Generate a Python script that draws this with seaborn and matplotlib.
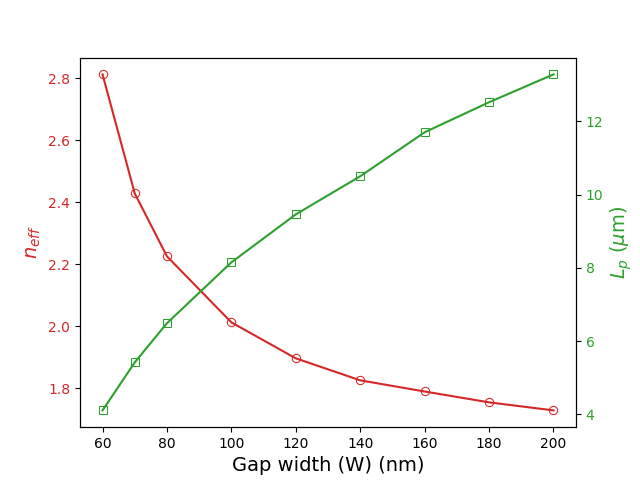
import matplotlib
matplotlib.use("Agg")
import matplotlib.pyplot as plt
import seaborn as sns
import pandas as pd

gap_nm = [60, 70, 80, 100, 120, 140, 160, 180, 200]
n_eff = [2.813, 2.429, 2.226, 2.013, 1.897, 1.826, 1.790, 1.755, 1.729]
L_p = [4.11, 5.42, 6.49, 8.15, 9.46, 10.50, 11.70, 12.52, 13.28]

df = pd.DataFrame({"W": gap_nm, "neff": n_eff, "Lp": L_p})

fig, ax1 = plt.subplots(figsize=(6.4, 4.8), dpi=100)
sns.lineplot(data=df, x="W", y="neff", ax=ax1, color="tab:red", marker="o",
             markerfacecolor="none", markeredgecolor="tab:red")
ax1.set_xlabel("Gap width (W) (nm)", fontsize=14)
ax1.set_ylabel(r"$n_{eff}$", color="tab:red", fontsize=14)
ax1.tick_params(axis="y", labelcolor="tab:red")

ax2 = ax1.twinx()
sns.lineplot(data=df, x="W", y="Lp", ax=ax2, color="tab:green", marker="s",
             markerfacecolor="none", markeredgecolor="tab:green")
ax2.set_ylabel(r"$L_p$ ($\mu$m)", color="tab:green", fontsize=14)
ax2.tick_params(axis="y", labelcolor="tab:green")

fig.savefig("out.png", dpi=100)
